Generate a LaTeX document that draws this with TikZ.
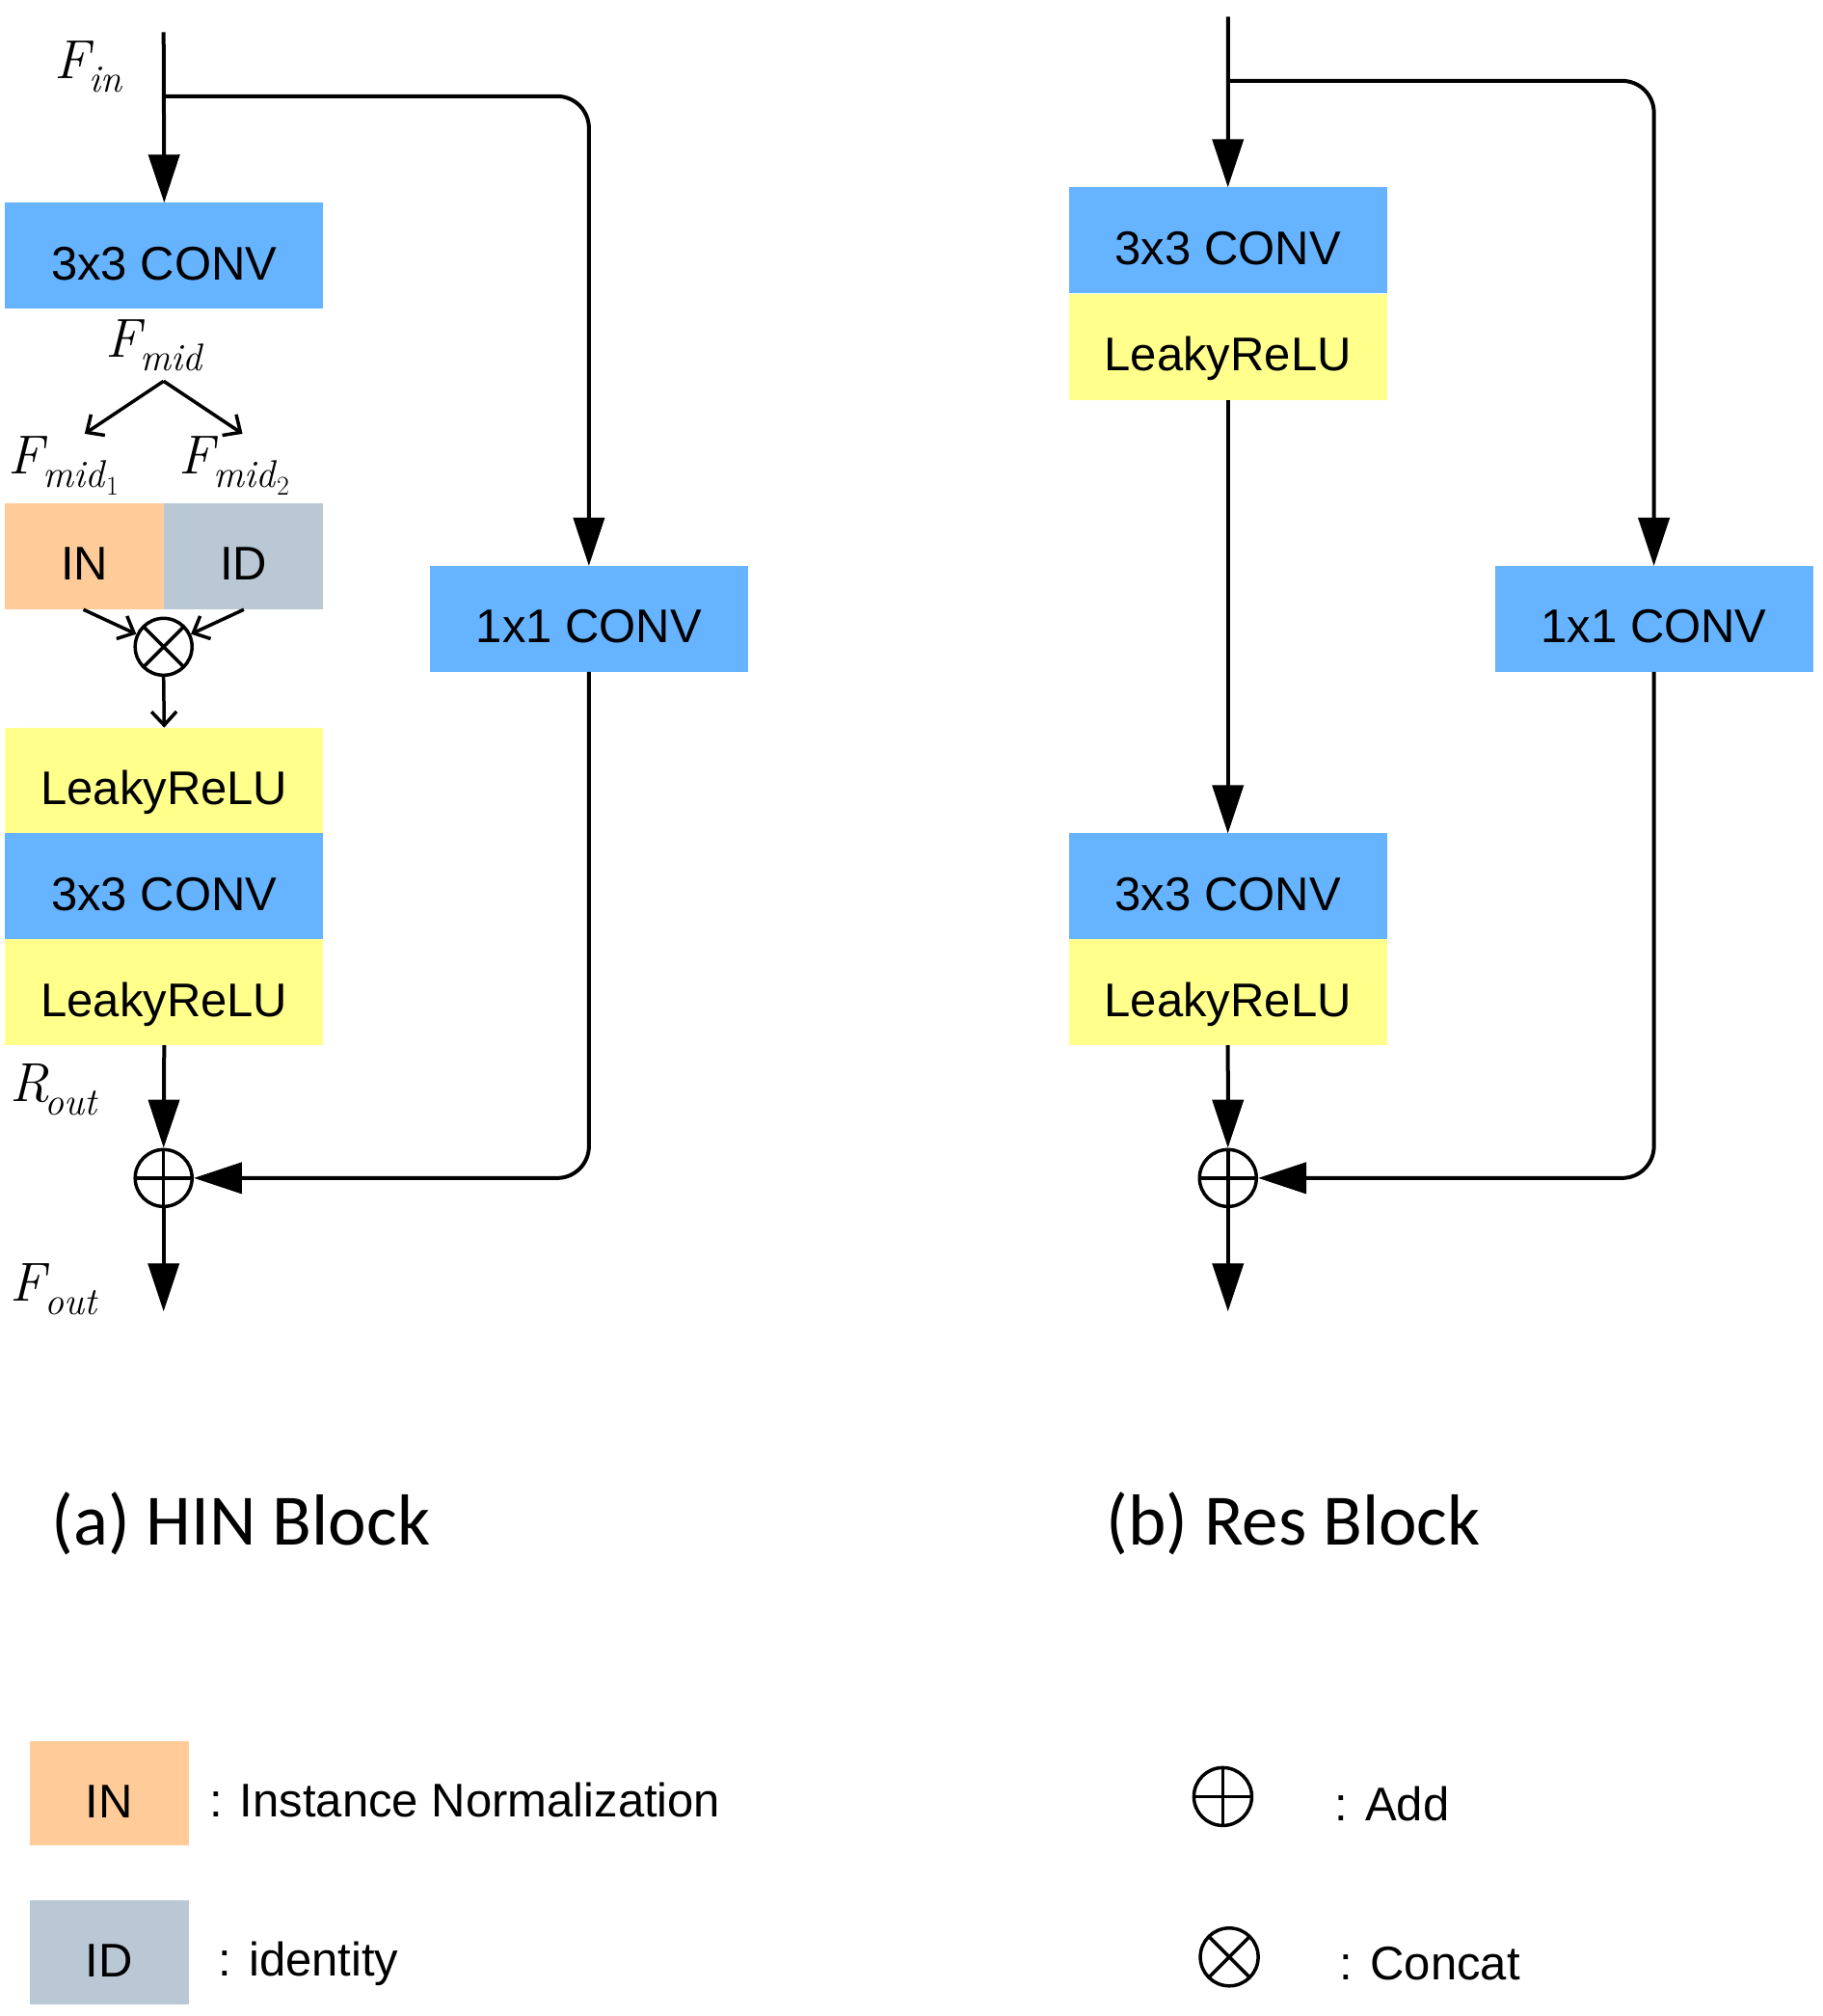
\documentclass[tikz,border=0pt]{standalone}
\usepackage{fontspec}
\setsansfont{Liberation Sans}
\newfontfamily\capfont{Carlito}
\usetikzlibrary{arrows.meta,calc}
\definecolor{convblue}{HTML}{66B3FF}
\definecolor{reluyellow}{HTML}{FFFF8C}
\definecolor{inorange}{HTML}{FFCC99}
\definecolor{idgray}{HTML}{B9C8D4}
\newcommand\mylab[2]{\textit{#1}\kern-5pt\raisebox{-14pt}{\fontsize{40}{40}\selectfont\textit{#2}}}
\newcommand\mylabb[3]{\textit{#1}\kern-5pt\raisebox{-14pt}{\fontsize{40}{40}\selectfont\textit{#2}\raisebox{-8pt}{\fontsize{28}{28}\selectfont #3}}}
\begin{document}
\begin{tikzpicture}[x=1.331pt,y=-1.331pt,
  blk/.style={inner sep=0pt, outer sep=0pt, minimum height=110pt, minimum width=330pt, anchor=north west,
    text height=60pt, text depth=10pt, font=\sffamily\fontsize{49}{55}\selectfont},
  conv/.style={blk, fill=convblue},
  relu/.style={blk, fill=reluyellow},
  half/.style={blk, minimum width=165pt},
  big/.style={line width=4pt, -{Triangle[length=50pt,width=32pt]}},
  small/.style={line width=3.5pt, -{Straight Barb[length=14pt,width=26pt]}},
  lab/.style={anchor=base west, inner sep=0pt, font=\fontsize{57}{60}\selectfont},
  captext/.style={anchor=base west, inner sep=0pt, font=\capfont\fontsize{75}{80}\selectfont},
  leg/.style={anchor=base west, inner sep=0pt, font=\sffamily\fontsize{49}{55}\selectfont},
  addc/.style={circle, draw, line width=3.5pt, minimum size=59pt, inner sep=0pt,
    path picture={\draw[line width=3.5pt] (path picture bounding box.north) -- (path picture bounding box.south)
      (path picture bounding box.west) -- (path picture bounding box.east);}},
  catc/.style={circle, draw, line width=3.5pt, minimum size=59pt, inner sep=0pt,
    path picture={\draw[line width=3.5pt] (path picture bounding box.north west) -- (path picture bounding box.south east)
      (path picture bounding box.north east) -- (path picture bounding box.south west);}},
]
\useasboundingbox (0,0) rectangle (1420,1571);

% ---------------- (a) HIN block ----------------
\node[conv] (aconv1) at (4,158) {3x3 CONV};
\node[half, fill=inorange] (ain) at (4,392) {IN};
\node[half, fill=idgray] (aid) at (128,392) {ID};
\node[relu, minimum height=109.8pt] (arelu1) at (4,567) {LeakyReLU};
\node[conv, minimum height=109.8pt] (aconv2) at (4,649.5) {3x3 CONV};
\node[relu, minimum height=109.8pt] (arelu2) at (4,732) {LeakyReLU};
\node[conv] (aone) at (335,441) {1x1 CONV};
\node[catc] (acat) at (127.5,504) {};
\node[addc] (aadd) at (127.5,918) {};

\coordinate (atop) at (127.5,25);
\coordinate (abr) at (127.5,75);
\coordinate (asplit) at (127.5,297);
\coordinate (afm1) at (66,338);
\coordinate (afm2) at (189,338);
\coordinate (ains) at (65,475);
\coordinate (aids) at (190,475);
\coordinate (aend) at (127.5,1022);

\node[lab] (lfin) at (42,61) {\mylab{F}{in}};
\node[lab] (lfmid) at (82,278) {\mylab{F}{mid}};
\node[lab] (lfm1) at (6,369) {\mylabb{F}{mid}{1}};
\node[lab] (lfm2) at (139,369) {\mylabb{F}{mid}{2}};
\node[lab] (lrout) at (8,858) {\mylab{R}{out}};
\node[lab] (lfout) at (8,1014) {\mylab{F}{out}};

\draw[big] (atop) -- (aconv1.north);
\draw[big, rounded corners=33pt] (abr) -| (aone.north);
\draw[small] (asplit) -- (afm1);
\draw[small] (asplit) -- (afm2);
\draw[small] (ains) -- (acat);
\draw[small] (aids) -- (acat);
\draw[small] (acat.south) -- (arelu1.north);
\draw[big] (arelu2.south) -- (aadd.north);
\draw[big, rounded corners=33pt] (aone.south) |- (aadd.east);
\draw[big] (aadd.south) -- (aend);

% ---------------- (b) Res block ----------------
\node[conv] (bconv1) at (833,146) {3x3 CONV};
\node[relu] (brelu1) at (833,229) {LeakyReLU};
\node[conv, minimum height=109.8pt] (bconv2) at (833,649.5) {3x3 CONV};
\node[relu, minimum height=109.8pt] (brelu2) at (833,732) {LeakyReLU};
\node[conv] (bone) at (1165,441) {1x1 CONV};
\node[addc] (badd) at (957,918) {};

\coordinate (btop) at (957,13);
\coordinate (bbr) at (957,63);
\coordinate (bend) at (957,1022);

\draw[big] (btop) -- (bconv1.north);
\draw[big, rounded corners=33pt] (bbr) -| (bone.north);
\draw[big] (brelu1.south) -- (bconv2.north);
\draw[big] (brelu2.south) -- (badd.north);
\draw[big, rounded corners=33pt] (bone.south) |- (badd.east);
\draw[big] (badd.south) -- (bend);

% ---------------- captions ----------------
\node[captext] (capa) at (40,1204) {(a) HIN Block};
\node[captext] (capb) at (862,1204) {(b) Res Block};

% ---------------- legend ----------------
\node[half, fill=inorange, minimum height=108pt] (legin) at (23,1357) {IN};
\node[leg] (legint) at (163,1416) {: Instance Normalization};
\node[half, fill=idgray, minimum height=108pt] (legid) at (23,1481) {ID};
\node[leg] (legidt) at (170,1540) {: identity};
\node[addc, minimum size=60pt] (legadd) at (953,1400) {};
\node[leg] (legaddt) at (1040,1419) {: Add};
\node[catc, minimum size=60pt] (legcat) at (958,1525) {};
\node[leg] (legcatt) at (1044,1543) {: Concat};
\end{tikzpicture}
\end{document}
